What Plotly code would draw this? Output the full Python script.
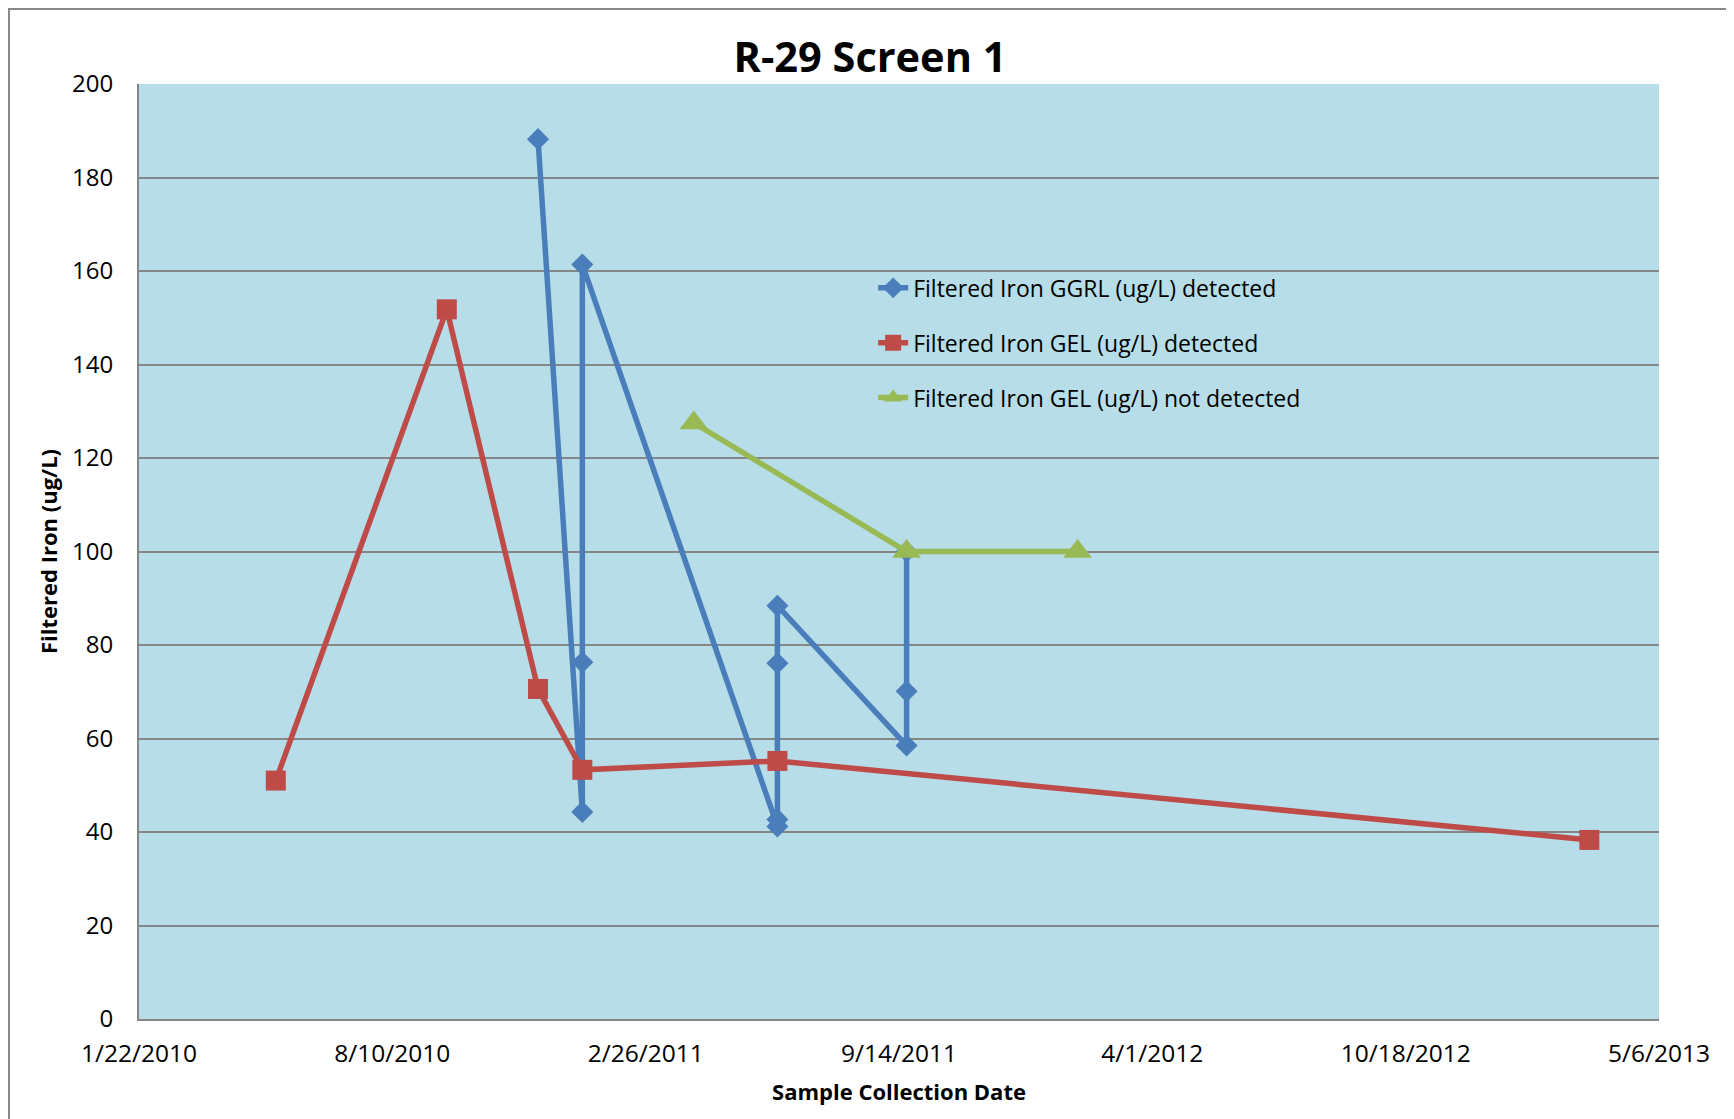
import plotly.graph_objects as go

# ---- data ----
ggrl_dates = ["2010-12-03", "2011-01-07", "2011-01-07", "2011-01-07",
              "2011-06-10", "2011-06-10", "2011-06-10", "2011-06-10",
              "2011-09-20", "2011-09-20", "2011-09-20"]
ggrl_values = [188.2, 44.3, 76.3, 161.4, 41.2, 42.7, 76.1, 88.4, 58.5, 70.1, 100.0]

gel_det_dates = ["2010-05-10", "2010-09-22", "2010-12-03", "2011-01-07", "2011-06-10", "2013-03-12"]
gel_det_values = [51.0, 151.8, 70.6, 53.3, 55.2, 38.3]

gel_nd_dates = ["2011-04-05", "2011-09-20", "2012-02-02"]
gel_nd_values = [127.5, 100.0, 100.0]

x_tickvals = ["2010-01-22", "2010-08-10", "2011-02-26", "2011-09-14", "2012-04-01", "2012-10-18", "2013-05-06"]
x_ticktext = ["1/22/2010", "8/10/2010", "2/26/2011", "9/14/2011", "4/1/2012", "10/18/2012", "5/6/2013"]
y_tickvals = [0, 20, 40, 60, 80, 100, 120, 140, 160, 180, 200]

names = ["Filtered Iron GGRL (ug/L) detected",
         "Filtered Iron GEL (ug/L) detected",
         "Filtered Iron GEL (ug/L) not detected"]

BLUE = "#4A7EBB"
RED = "#BE4B48"
GREEN = "#98B954"
FONT = "Open Sans"

L, R, T, B = 131, 83, 76, 108
PW = 1734 - L - R
PH = 1119 - T - B

fig = go.Figure()
fig.add_trace(go.Scatter(x=ggrl_dates, y=ggrl_values, mode="lines+markers", name=names[0],
                         legendgroup="a",
                         line=dict(color=BLUE, width=5.5),
                         marker=dict(symbol="diamond", size=17, color=BLUE)))
fig.add_trace(go.Scatter(x=gel_det_dates, y=gel_det_values, mode="lines+markers", name=names[1],
                         legendgroup="b",
                         line=dict(color=RED, width=5.5),
                         marker=dict(symbol="square", size=20, color=RED)))
fig.add_trace(go.Scatter(x=gel_nd_dates, y=gel_nd_values, mode="lines+markers", name=names[2],
                         legendgroup="c",
                         line=dict(color=GREEN, width=5.5),
                         marker=dict(symbol="triangle-up", size=25, color=GREEN)))

fig.update_layout(
    width=1734, height=1119,
    margin=dict(l=L, r=R, t=T, b=B),
    paper_bgcolor="white",
    plot_bgcolor="#B7DDE8",
    font=dict(family=FONT, color="black", size=23),
    title=dict(text="<b>R-29 Screen 1</b>", x=(870 - 8) / 1734, xanchor="center",
               y=1 - (57 - 8) / 1119, yanchor="middle", font=dict(size=41.5, family=FONT)),
    showlegend=True,
    legend=dict(x=0.483, y=0.805, xanchor="left", yanchor="top",
                bgcolor="rgba(0,0,0,0)", font=dict(size=23, family=FONT),
                traceorder="grouped", tracegroupgap=22),
    xaxis=dict(type="date", range=["2010-01-22", "2013-05-06"],
               tickvals=x_tickvals, ticktext=x_ticktext, showgrid=False,
               showline=True, linecolor="#868686", linewidth=2, ticks="",
               ticklabelstandoff=12, tickfont=dict(size=24.5),
               title=dict(text="<b>Sample Collection Date</b>", font=dict(size=22), standoff=16),
               zeroline=False),
    yaxis=dict(range=[0, 200], tickvals=y_tickvals, showgrid=True, gridcolor="#868686",
               gridwidth=2, showline=True, linecolor="#868686", linewidth=2, ticks="",
               ticklabelstandoff=19, tickfont=dict(size=24),
               title=dict(text="<b>Filtered Iron (ug/L)</b>", font=dict(size=22), standoff=8),
               zeroline=False),
    shapes=[dict(type="rect", xref="paper", yref="paper",
                 x0=(1 - L) / PW, x1=1.2, y0=-0.3, y1=1 + (T - 1) / PH,
                 line=dict(color="#888888", width=2), layer="below")],
)

fig.write_html("out.html")
